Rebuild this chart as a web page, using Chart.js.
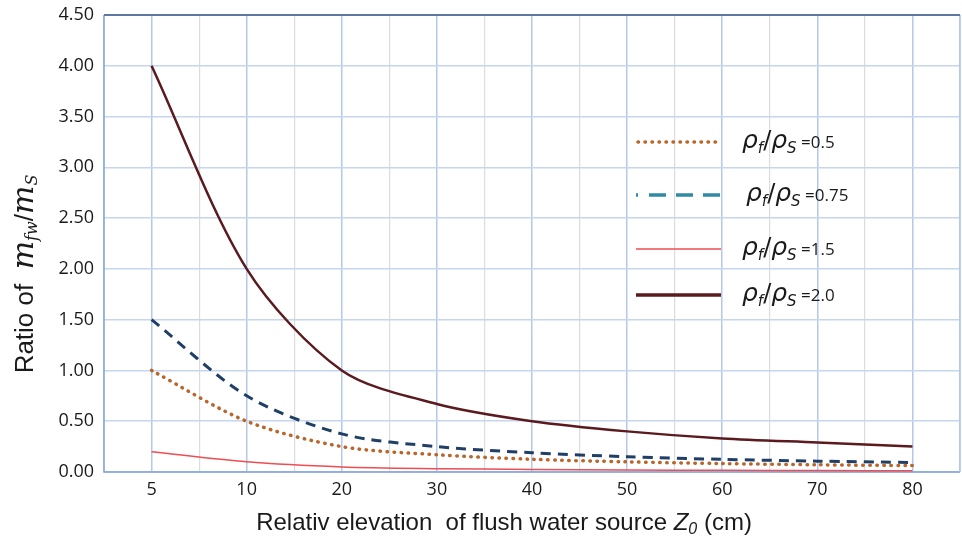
<!DOCTYPE html>
<html>
<head>
<meta charset="utf-8">
<script src="https://cdn.jsdelivr.net/npm/chart.js@4.4.1/dist/chart.umd.min.js"></script>
<style>
  html, body { margin: 0; padding: 0; background: #fff; }
  #wrap { width: 962px; height: 536px; }
</style>
</head>
<body>
<div id="wrap"><canvas id="c" width="962" height="536"></canvas></div>
<script>
// categories on the x axis (Z0, cm)
var categories = [5, 10, 20, 30, 40, 50, 60, 70, 80];
// ratio of m_fw / m_s for each density ratio
var ratio05  = [1.00, 0.50, 0.25, 0.17, 0.125, 0.10, 0.083, 0.071, 0.063];
var ratio075 = [1.50, 0.75, 0.375, 0.25, 0.19, 0.15, 0.125, 0.107, 0.094];
var ratio15  = [0.20, 0.10, 0.05, 0.033, 0.025, 0.020, 0.017, 0.014, 0.0125];
var ratio20  = [4.00, 2.00, 1.00, 0.67, 0.50, 0.40, 0.33, 0.29, 0.25];
var seriesNames = ['0.5', '0.75', '1.5', '2.0'];
var yTicks = [0, 0.5, 1, 1.5, 2, 2.5, 3, 3.5, 4, 4.5];

function toPoints(arr) {
    return arr.map(function(v, i) { return {x: i, y: v}; });
}

// draws a run of text pieces, each with its own font and baseline shift
function drawParts(ctx, parts, x, y, align) {
    var total = 0;
    parts.forEach(function(p) { ctx.font = p.font; total += ctx.measureText(p.t).width; });
    var cx = align === 'center' ? x - total / 2 : x;
    parts.forEach(function(p) {
        ctx.font = p.font;
        ctx.fillText(p.t, cx, y + (p.dy || 0));
        cx += ctx.measureText(p.t).width;
    });
}

var legendRows = [
    {name: seriesNames[0], color: '#B8662A', style: 'dot', y: 142, tx: 742},
    {name: seriesNames[1], color: '#2F8AA3', style: 'dash', y: 195, tx: 746},
    {name: seriesNames[2], color: '#EE4D52', style: 'thin', y: 249, tx: 742},
    {name: seriesNames[3], color: '#5A1A1E', style: 'thick', y: 295, tx: 742}
];

var decorPlugin = {
    id: 'decor',
    beforeDatasetsDraw: function(chart) {
        var ctx = chart.ctx, a = chart.chartArea;
        ctx.save();
        ctx.lineWidth = 1.5;
        ctx.strokeStyle = '#7EA2D6';
        ctx.beginPath();
        ctx.moveTo(a.left, a.top); ctx.lineTo(a.left, a.bottom); ctx.lineTo(a.right, a.bottom);
        ctx.stroke();
        ctx.strokeStyle = '#A8C0E4';
        ctx.beginPath();
        ctx.moveTo(a.right, a.top); ctx.lineTo(a.right, a.bottom);
        ctx.stroke();
        ctx.strokeStyle = '#5E78A4';
        ctx.lineWidth = 2;
        ctx.beginPath();
        ctx.moveTo(a.left, a.top); ctx.lineTo(a.right, a.top);
        ctx.stroke();
        ctx.restore();
    },
    afterDraw: function(chart) {
        var ctx = chart.ctx;
        ctx.save();
        ctx.fillStyle = '#1a1a1a';
        ctx.textBaseline = 'alphabetic';

        // legend
        legendRows.forEach(function(r) {
            ctx.save();
            ctx.strokeStyle = r.color;
            if (r.style === 'dot') {
                ctx.lineWidth = 3.5; ctx.lineCap = 'round'; ctx.setLineDash([0.5, 6.5]);
                ctx.beginPath(); ctx.moveTo(638, r.y); ctx.lineTo(720, r.y); ctx.stroke();
            } else if (r.style === 'dash') {
                ctx.lineWidth = 3.5;
                ctx.beginPath(); ctx.moveTo(636, r.y); ctx.lineTo(638, r.y); ctx.stroke();
                ctx.setLineDash([17, 10]);
                ctx.beginPath(); ctx.moveTo(649, r.y); ctx.lineTo(721, r.y); ctx.stroke();
            } else {
                ctx.lineWidth = r.style === 'thin' ? 1.5 : 3.5;
                ctx.beginPath(); ctx.moveTo(636, r.y); ctx.lineTo(721, r.y); ctx.stroke();
            }
            ctx.restore();
            drawParts(ctx, [
                {t: 'ρ', font: 'italic 25px "DejaVu Sans"'},
                {t: 'f', font: 'italic 15px "DejaVu Sans"', dy: 5},
                {t: '/', font: '24px "DejaVu Sans"'},
                {t: 'ρ', font: 'italic 25px "DejaVu Sans"'},
                {t: 'S', font: 'italic 15px "DejaVu Sans"', dy: 5},
                {t: ' =' + r.name, font: '17px "Open Sans"'}
            ], r.tx, r.y + 6, 'left');
        });

        // x axis title
        drawParts(ctx, [
            {t: 'Relativ elevation  of flush water source ', font: '24px "Liberation Sans"'},
            {t: 'Z', font: 'italic 24px "Liberation Sans"'},
            {t: '0', font: 'italic 16px "Liberation Sans"', dy: 4},
            {t: ' (cm)', font: '24px "Liberation Sans"'}
        ], 504, 530, 'center');

        // y axis title
        ctx.translate(33, 274);
        ctx.rotate(-Math.PI / 2);
        drawParts(ctx, [
            {t: 'Ratio of  ', font: '26px "Liberation Sans"'},
            {t: 'm', font: 'italic 30px "DejaVu Serif"'},
            {t: 'fw', font: 'italic 16px "DejaVu Serif"', dy: 4},
            {t: '/', font: '26px "Liberation Sans"'},
            {t: 'm', font: 'italic 30px "DejaVu Serif"'},
            {t: 'S', font: 'italic 16px "DejaVu Serif"', dy: 4}
        ], 0, 0, 'center');
        ctx.restore();
    }
};

var ctx = document.getElementById('c').getContext('2d');
var chart = new Chart(ctx, {
    type: 'line',
    data: {
        datasets: [{
            label: seriesNames[0],
            data: toPoints(ratio05),
            borderColor: '#B8662A',
            borderWidth: 3.5,
            borderDash: [0.5, 6.5],
            borderCapStyle: 'round'
        }, {
            label: seriesNames[1],
            data: toPoints(ratio075),
            borderColor: '#203F66',
            borderWidth: 3,
            borderDash: [10, 7]
        }, {
            label: seriesNames[2],
            data: toPoints(ratio15),
            borderColor: '#EE4D52',
            borderWidth: 1.5
        }, {
            label: seriesNames[3],
            data: toPoints(ratio20),
            borderColor: '#5A1A1E',
            borderWidth: 2.5
        }]
    },
    options: {
        responsive: false,
        animation: false,
        layout: {padding: {left: 0, right: 2, top: 15, bottom: 0}},
        elements: {point: {radius: 0}, line: {tension: 0.3, fill: false}},
        plugins: {legend: {display: false}, tooltip: {enabled: false}},
        scales: {
            x: {
                type: 'linear',
                min: -0.5,
                max: 8.5,
                afterBuildTicks: function(scale) {
                    var t = [];
                    for (var i = 0; i <= categories.length * 2; i++) t.push({value: -0.5 + i * 0.5});
                    scale.ticks = t;
                },
                afterFit: function(scale) {
                    scale.height = 64;
                    scale.paddingLeft = 0;
                    scale.paddingRight = 0;
                },
                border: {display: false},
                grid: {
                    drawTicks: false,
                    color: function(c) {
                        return Number.isInteger(c.tick.value) ? '#B3C8EA' : '#DCDCDC';
                    },
                    lineWidth: function(c) {
                        return Number.isInteger(c.tick.value) ? 1.5 : 1.2;
                    }
                },
                ticks: {
                    autoSkip: false,
                    maxRotation: 0,
                    padding: 7,
                    color: '#1a1a1a',
                    font: {family: 'Open Sans', size: 18},
                    callback: function(v) {
                        return Number.isInteger(v) ? String(categories[v]) : '';
                    }
                }
            },
            y: {
                min: 0,
                max: 4.5,
                afterBuildTicks: function(scale) {
                    scale.ticks = yTicks.map(function(v) { return {value: v}; });
                },
                afterFit: function(scale) {
                    scale.width = 104;
                    scale.paddingTop = 0;
                    scale.paddingBottom = 0;
                },
                border: {display: false},
                grid: {drawTicks: false, color: '#C6D6EE', lineWidth: 1.5},
                ticks: {
                    padding: 10,
                    color: '#1a1a1a',
                    font: {family: 'Open Sans', size: 18},
                    callback: function(v) { return v.toFixed(2); }
                }
            }
        }
    },
    plugins: [decorPlugin]
});
</script>
</body>
</html>
